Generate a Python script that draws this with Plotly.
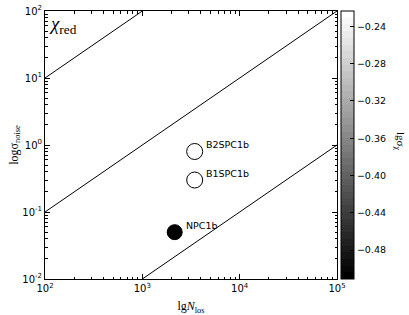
import numpy as np
import plotly.graph_objects as go

# ---- data ----
sources = ["NPC1b", "B1SPC1b", "B2SPC1b"]
n_los = [2150, 3450, 3450]
sigma_noise = [0.05, 0.30, 0.80]
filled = [True, False, False]

# contour lines of constant sigma_noise / N_los
line_ratios = [1e-1, 1e-3, 1e-5]
line_n_span = [1e2, 1e5]

x_decades = [2, 3, 4, 5]
y_decades = [-2, -1, 0, 1, 2]

cbar_ticks = [-0.48, -0.44, -0.40, -0.36, -0.32, -0.28, -0.24]
cbar_min, cbar_max = -0.511, -0.2236
n_levels = 40

FONT = "DejaVu Sans"
SERIF = "Liberation Serif"

fig = go.Figure()

# contour lines
for r in line_ratios:
    xs = np.array(line_n_span)
    fig.add_trace(go.Scatter(x=xs, y=r * xs, mode="lines",
                             line=dict(color="black", width=1),
                             showlegend=False, hoverinfo="skip"))

# points
for name, n, s, f in zip(sources, n_los, sigma_noise, filled):
    fig.add_trace(go.Scatter(
        x=[n], y=[s], mode="markers", showlegend=False,
        marker=dict(size=15 if f else 16, color="black" if f else "white",
                    line=dict(color="black", width=1)),
    ))
    fig.add_annotation(x=np.log10(n), y=np.log10(s), xref="x", yref="y",
                       text=name, showarrow=False, xanchor="left", yanchor="middle",
                       xshift=9.5, yshift=7, font=dict(family=FONT, size=9.5, color="black"))

# stepped gray colorscale (filled-contour look)
cs = []
for i in range(n_levels):
    g = int(round(255 * i / (n_levels - 1)))
    c = f"rgb({g},{g},{g})"
    cs.append([i / n_levels, c])
    cs.append([(i + 1) / n_levels, c])

fig.add_trace(go.Scatter(
    x=[None], y=[None], mode="markers", showlegend=False, hoverinfo="skip",
    marker=dict(color=[cbar_min], cmin=cbar_min, cmax=cbar_max, colorscale=cs,
                showscale=True,
                colorbar=dict(x=1.0137, xanchor="left", xpad=0, y=0.5, yanchor="middle",
                              ypad=0, len=1, lenmode="fraction", thickness=13,
                              outlinewidth=1, outlinecolor="black",
                              tickmode="array", tickvals=cbar_ticks,
                              ticktext=[f"\u2212{abs(v):.2f}" for v in cbar_ticks],
                              ticks="inside", ticklen=4, tickcolor="black",
                              tickfont=dict(family=FONT, size=9.5, color="black"))),
))

minor_x = [m * 10 ** d for d in x_decades[:-1] for m in range(2, 10)]
minor_y = [m * 10 ** d for d in y_decades[:-1] for m in range(2, 10)]

def lab(d):
    return f"10<sup>{d}</sup>"

fig.update_xaxes(type="log", range=[x_decades[0], x_decades[-1]],
                 tickmode="array", tickvals=[10 ** d for d in x_decades],
                 ticktext=[lab(d) for d in x_decades],
                 ticks="inside", ticklen=5, tickcolor="black", mirror="allticks",
                 showline=True, linecolor="black", linewidth=1, showgrid=False, zeroline=False,
                 minor=dict(tickmode="array", tickvals=minor_x, ticks="inside", ticklen=2.5,
                            tickcolor="black", showgrid=False),
                 tickfont=dict(family=FONT, size=10, color="black"),
                 title=dict(text="lg<i>N</i><sub>los</sub>", font=dict(family=SERIF, size=12, color="black"),
                            standoff=11))
fig.update_yaxes(type="log", range=[y_decades[0], y_decades[-1]],
                 tickmode="array", tickvals=[10 ** d for d in y_decades],
                 ticktext=[lab(d) for d in y_decades],
                 ticks="inside", ticklen=5, tickcolor="black", mirror="allticks",
                 showline=True, linecolor="black", linewidth=1, showgrid=False, zeroline=False,
                 minor=dict(tickmode="array", tickvals=minor_y, ticks="inside", ticklen=2.5,
                            tickcolor="black", showgrid=False),
                 tickfont=dict(family=FONT, size=10, color="black"),
                 title=dict(text="log\u03c3<sub>noise</sub>", font=dict(family=SERIF, size=12, color="black"),
                            standoff=1))

# chi_red label
fig.add_annotation(x=0, y=1, xref="paper", yref="paper", xanchor="left", yanchor="top",
                   xshift=2, yshift=0, showarrow=False,
                   text="<i>\u03c7</i><sub>red</sub>", font=dict(family=SERIF, size=19, color="black"))
# colorbar label
fig.add_annotation(x=1.0, y=0.5, xref="paper", yref="paper", xanchor="center", yanchor="middle",
                   xshift=63, yshift=4, showarrow=False, textangle=90,
                   text="lg\u03c3<sub>\u03c7</sub>", font=dict(family=SERIF, size=11, color="black"))

fig.update_layout(width=409, height=315, margin=dict(l=45, r=72, t=11, b=36, autoexpand=False),
                  plot_bgcolor="white", paper_bgcolor="white", showlegend=False)

fig.write_html("out.html", config={"displayModeBar": False},
               post_script="document.body.style.margin='0';document.body.style.overflow='hidden';")
